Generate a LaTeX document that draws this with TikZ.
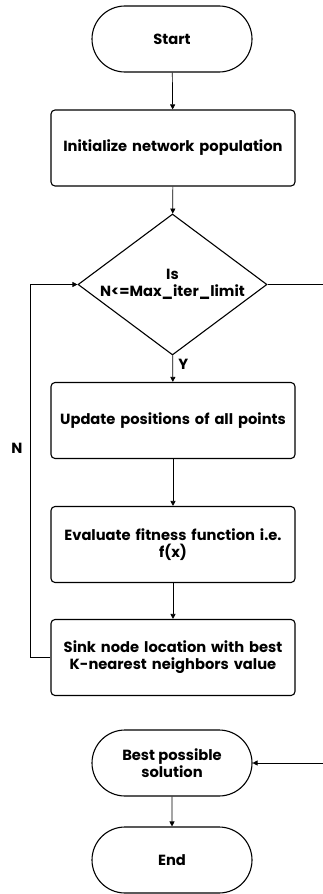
\documentclass[tikz,border=0pt]{standalone}
\usepackage{fontspec}
\setmainfont{Poppins}
\usetikzlibrary{shapes.geometric,shapes.misc,arrows.meta}
\begin{document}
\begin{tikzpicture}[x=1pt,y=-1pt,
  font=\bfseries\fontsize{14.7}{17}\selectfont,
  term/.style={draw,line width=1.1pt,rounded rectangle,minimum width=160pt,minimum height=66pt,align=center,inner sep=0pt},
  proc/.style={draw,line width=1.1pt,rounded corners=4pt,minimum width=244pt,minimum height=76pt,align=center,text width=240pt,inner sep=0pt},
  dec/.style={draw,line width=1.1pt,diamond,minimum width=189pt,minimum height=141pt,align=center,inner sep=0pt},
  conn/.style={line width=0.7pt,-{Triangle[length=5pt,width=5pt]}},
  line/.style={line width=0.7pt}]
\useasboundingbox (0,0) rectangle (322,894);
\node[term] (start) at (172,39) {Start};
\node[proc] (init) at (173,148) {Initialize network population};
\node[dec,aspect=1.34] (dec) at (172.5,284.5) {Is\\N<=Max\_iter\_limit};
\node[proc] (upd) at (173,420.5) {Update positions of all points};
\node[proc] (eval) at (173,544.5) {Evaluate fitness function i.e.\\f(x)};
\node[proc] (sink) at (173,657.5) {Sink node location with best\\K-nearest neighbors value};
\node[term] (best) at (172,763) {Best possible\\solution};
\node[term] (end) at (172,860) {End};
\coordinate (r1) at (324,284.5);
\coordinate (r2) at (324,763);
\coordinate (l1) at (30,657.5);
\coordinate (l2) at (30,284.5);
\draw[conn] (start) -- (init);
\draw[conn] (init) -- (dec);
\draw[conn] (dec) -- node[right,pos=0.35,xshift=2pt] (ylab) {Y} (upd);
\draw[conn] (upd) -- (eval);
\draw[conn] (eval) -- (sink);
\draw[conn] (best) -- (end);
\draw[conn] (dec.east) -- (r1) -- (r2) -- (best.east);
\draw[conn] (sink.west) -- (l1) -- (l2) -- (dec.west);
\node (nlab) at (17,448) {N};
\end{tikzpicture}
\end{document}
